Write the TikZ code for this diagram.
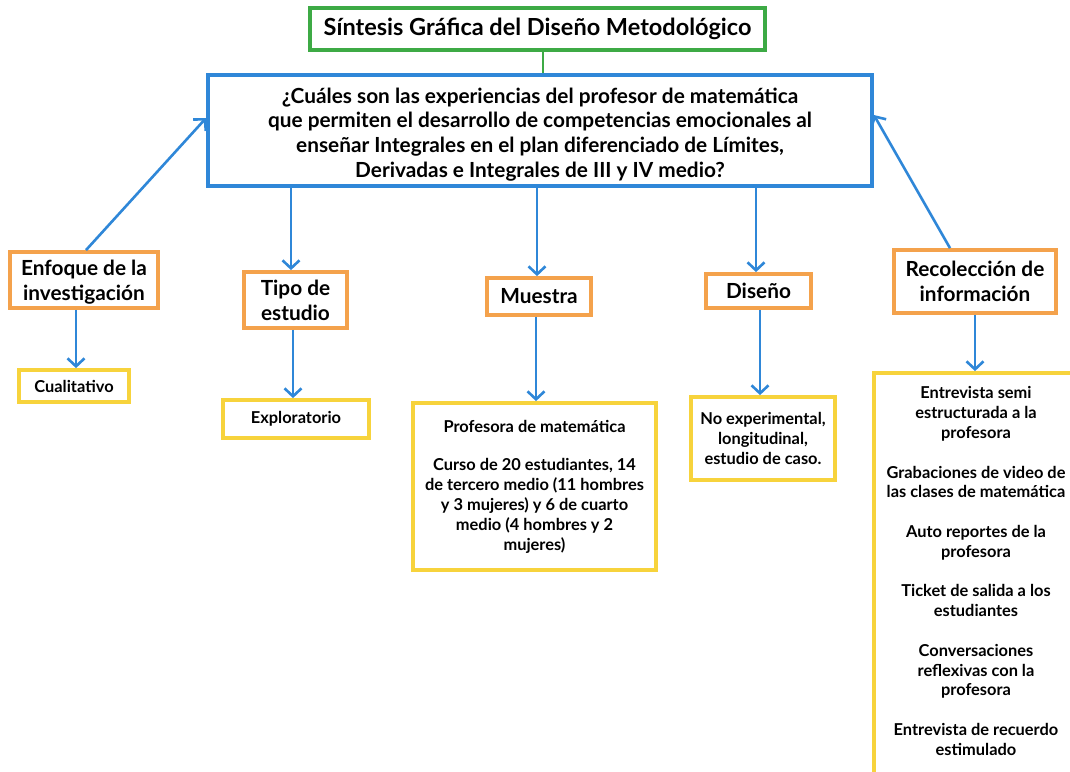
\documentclass[tikz,border=0pt]{standalone}
\usepackage{fontspec}
\setmainfont{Lato}
\usetikzlibrary{arrows.meta}
\definecolor{titlegreen}{HTML}{3DAA45}
\definecolor{qblue}{HTML}{2F87D8}
\definecolor{catorange}{HTML}{F4A24C}
\definecolor{valyellow}{HTML}{F7D33C}
\begin{document}
\begin{tikzpicture}[x=1pt,y=-1pt,
  every node/.style={font=\bfseries, text=black, align=center, inner sep=0pt},
  titlebox/.style={draw=titlegreen, line width=3.8pt, fill=white, font=\fontsize{23.5}{26}\bfseries},
  questionbox/.style={draw=qblue, line width=3.8pt, fill=white, font=\fontsize{20.8}{24.6}\bfseries},
  catbox/.style={draw=catorange, line width=3.8pt, fill=white, font=\fontsize{20.8}{25}\bfseries},
  valbox/.style={draw=valyellow, line width=3.8pt, fill=white, font=\fontsize{16.4}{19.8}\bfseries},
  plaintext/.style={font=\fontsize{16.4}{19.8}\bfseries},
  link/.style={draw=qblue, line width=2.6pt, -{Straight Barb[length=8pt,width=17pt,line width=2.6pt]}},
]
\clip (0,0) rectangle (1070,771);
\fill[white] (0,0) rectangle (1070,771);

% title and research question
\node[titlebox, minimum width=455pt, minimum height=42pt] (title) at (537.5,29) {Síntesis Gráfica del Diseño Metodológico};
\node[questionbox, minimum width=664pt, minimum height=111pt] (question) at (540,130.5)
  {\rule{0pt}{23pt}¿Cuáles son las experiencias del profesor de matemática\\
   que permiten el desarrollo de competencias emocionales al\\
   enseñar Integrales en el plan diferenciado de Límites,\\
   Derivadas e Integrales de III y IV medio?};
\draw[titlegreen, line width=2.5pt] (title.south -| 543,0) -- (question.north -| 543,0);

% categories
\node[catbox, minimum width=148pt, minimum height=56pt] (enfoque) at (84,280) {\rule{0pt}{20pt}Enfoque de la\\investigación};
\node[catbox, minimum width=103pt, minimum height=56pt] (tipo) at (295.5,300) {Tipo de\\estudio};
\node[catbox, minimum width=104pt, minimum height=37pt] (muestra) at (539,296.5) {Muestra};
\node[catbox, minimum width=105pt, minimum height=34pt] (diseno) at (758.5,291) {Diseño};
\node[catbox, minimum width=162pt, minimum height=63pt] (recol) at (975,281.5) {Recolección de\\información};

% values
\node[valbox, minimum width=110pt, minimum height=32pt] (cuali) at (74,386) {Cualitativo};
\node[valbox, minimum width=146pt, minimum height=38pt] (explo) at (296,419) {Exploratorio};
\node[valbox, minimum width=243pt, minimum height=167pt] (prof) at (534.5,486.5)
  {Profesora de matemática\\[19pt]
   Curso de 20 estudiantes, 14\\
   de tercero medio (11 hombres\\
   y 3 mujeres) y 6 de cuarto\\
   medio (4 hombres y 2\\
   mujeres)};
\node[valbox, minimum width=144pt, minimum height=83pt] (noexp) at (763,438.5)
  {No experimental,\\longitudinal,\\estudio de caso.};
\node[valbox, minimum width=208pt, minimum height=420pt] (lista) at (978,583) {};
\node[plaintext] (listatxt) at (976,571)
  {Entrevista semi\\estructurada a la\\profesora\\[19.8pt]
   Grabaciones de video de\\las clases de matemática\\[19.8pt]
   Auto reportes de la\\profesora\\[19.8pt]
   Ticket de salida a los\\estudiantes\\[19.8pt]
   Conversaciones\\reflexivas con la\\profesora\\[19.8pt]
   Entrevista de recuerdo\\estimulado};

% connectors
\draw[link] (enfoque.north -| 86,0) -- (question.west |- 0,118);
\draw[link] (recol.north -| 950,0) -- (question.east |- 0,115);
\draw[link] (question.south -| 291,0) -- (tipo.north -| 291,0);
\draw[link] (question.south -| 537,0) -- (muestra.north -| 537,0);
\draw[link] (question.south -| 756,0) -- (diseno.north -| 756,0);
\draw[link] (enfoque.south -| 76,0) -- (cuali.north -| 76,0);
\draw[link] (tipo.south -| 293,0) -- (explo.north -| 293,0);
\draw[link] (muestra.south -| 536,0) -- (prof.north -| 536,0);
\draw[link] (diseno.south -| 760,0) -- (noexp.north -| 760,0);
\draw[link] (recol.south -| 975,0) -- (lista.north -| 975,0);
\end{tikzpicture}
\end{document}
